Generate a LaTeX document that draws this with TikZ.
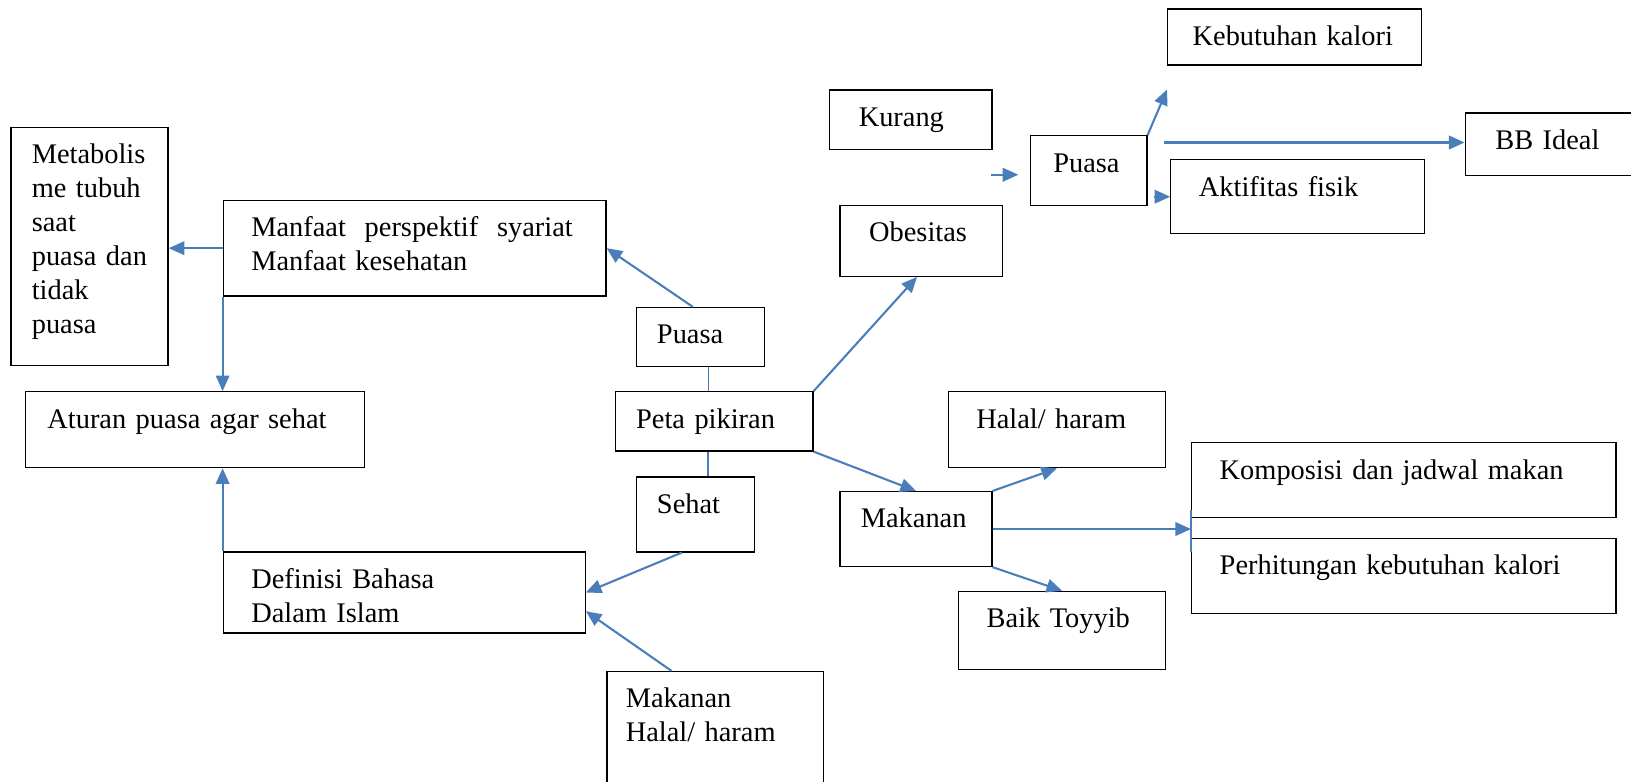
\documentclass[tikz,border=0pt]{standalone}
\usepackage{fontspec}
\setmainfont{Liberation Serif}
\usetikzlibrary{arrows.meta}
\definecolor{biru}{HTML}{4A7EBB}

\begin{document}
\begin{tikzpicture}[x=1pt,y=-1pt,
		kotak/.style={draw, line width=1.2pt, anchor=north west, inner ysep=0pt, text height=35pt, align=left, font=\fontsize{27.3}{32.6}\selectfont},
		panah/.style={draw=biru, line width=2pt, -{Triangle[length=15pt,width=13pt]}},
		garis/.style={draw=biru, line width=1.5pt}]
				\useasboundingbox (0,0) rectangle (1568,751);
				\clip (0,0) rectangle (1568,751);

				% kotak-kotak
				\node[kotak, inner xsep=24pt, text width=196pt, text depth=19pt] (kalori) at (1122,8) {Kebutuhan kalori};
				\node[kotak, inner xsep=28pt, text width=100pt, text depth=22pt] (kurang) at (797,86) {Kurang};
				\node[kotak, inner xsep=22pt, text width=68pt, text depth=32pt] (puasaB) at (990,130) {Puasa};
				\node[kotak, inner xsep=29pt, text width=150pt, text depth=25pt] (bb) at (1408,108) {BB Ideal};
				\node[kotak, inner xsep=27pt, text width=190pt, text depth=36pt] (aktif) at (1125,153) {Aktifitas fisik};
				\node[kotak, inner xsep=28pt, text width=100pt, text depth=33pt] (obes) at (807,197) {Obesitas};
				\node[kotak, inner xsep=20pt, text width=111pt, text depth=194pt] (meta) at (10,122) {Metabolis\\me tubuh\\saat\\puasa dan\\tidak\\puasa};
				\node[kotak, inner xsep=27pt, text width=314pt, text depth=57pt] (manfaat) at (214,192) {\makebox[309pt][l]{Manfaat\hfill perspektif\hfill syariat}\\Manfaat kesehatan};
				\node[kotak, inner xsep=21pt, text width=284pt, text depth=38pt] (aturan) at (24,376) {Aturan puasa agar sehat};
				\node[kotak, inner xsep=20pt, text width=83pt, text depth=22pt] (puasaA) at (611,295) {Puasa};
				\node[kotak, inner xsep=20pt, text width=150pt, text depth=22pt] (peta) at (591,376) {Peta pikiran};
				\node[kotak, inner xsep=20pt, text width=74pt, text depth=37pt] (sehat) at (611,458) {Sehat};
				\node[kotak, inner xsep=20pt, text width=106pt, text depth=37pt] (makan) at (807,472) {Makanan};
				\node[kotak, inner xsep=27pt, text width=155pt, text depth=38pt] (halal) at (911,376) {Halal/ haram};
				\node[kotak, inner xsep=27pt, text width=354pt, text depth=37pt] (komp) at (1145,425) {Komposisi dan jadwal makan};
				\node[kotak, inner xsep=27pt, text width=354pt, text depth=37pt] (hitung) at (1145,517) {Perhitungan kebutuhan kalori};
				\node[kotak, inner xsep=27pt, text width=145pt, text depth=40pt] (baik) at (921,568) {Baik Toyyib};
				\node[kotak, inner xsep=27pt, text width=294pt, text depth=43pt] (defin) at (214,530) {Definisi Bahasa\\Dalam Islam};
				\node[kotak, inner xsep=18pt, text width=172pt, text depth=85pt] (makhal) at (583,645) {Makanan\\Halal/ haram};

				% panah
				\coordinate (dariKurang) at (953,168);
				\coordinate (ujungKalori) at (1122,86);
				\coordinate (keBB) at (1119,137);
				\draw[panah, shorten >=11pt] (dariKurang) -- (dariKurang -| puasaB.west);
				\draw[panah] (puasaB.north east) -- (ujungKalori);
				\draw[panah] (keBB) -- (keBB -| bb.west);
				\draw[panah, shorten <=6pt] (puasaB.east |- aktif.west) -- (aktif.west);

				\draw[panah] (manfaat.west) -- (manfaat.west -| meta.east);
				\draw[panah] (manfaat.south west) -- (manfaat.south west |- aturan.north);
				\draw[panah] ([xshift=-7pt]puasaA.north) -- (manfaat.east);
				\draw[garis] ([xshift=8pt]puasaA.south) -- ([xshift=8pt]puasaA.south |- peta.north);
				\draw[garis] ([xshift=12pt]sehat.north |- peta.south) -- ([xshift=12pt]sehat.north);

				\draw[panah] (peta.north east) -- ([xshift=-4pt]obes.south);
				\draw[panah] (peta.south east) -- (makan.north);
				\draw[panah] (makan.north east) -- (halal.south);
				\draw[panah] (makan.east) -- (makan.east -| komp.west);
				\draw[garis] ([yshift=8pt]komp.south west) -- ([yshift=-14pt]hitung.north west);
				\draw[panah] (makan.south east) -- (baik.north);

				\draw[panah] ([xshift=-13pt]sehat.south) -- (defin.east);
				\draw[panah] ([xshift=-42pt]makhal.north) -- ([yshift=-18pt]defin.east);
				\draw[panah] (defin.north west) -- (defin.north west |- aturan.south);
			\end{tikzpicture}
\end{document}
